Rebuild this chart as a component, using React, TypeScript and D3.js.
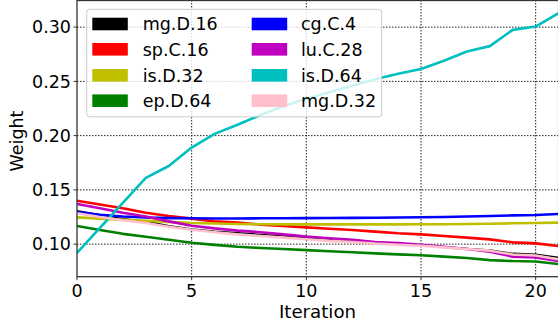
import React, { useEffect, useRef } from 'react';
import * as d3 from 'd3';

const iterations = d3.range(0, 22);

const seriesNames = ['mg.D.16', 'sp.C.16', 'is.D.32', 'ep.D.64', 'cg.C.4', 'lu.C.28', 'is.D.64', 'mg.D.32'];
const seriesColors = ['#000000', '#ff0000', '#bfbf00', '#008000', '#0000ff', '#bf00bf', '#00bfbf', '#ffc0cb'];

const mgD16 = [0.1308, 0.127, 0.1235, 0.121, 0.117, 0.114, 0.112, 0.1105, 0.109, 0.1075, 0.106, 0.1045, 0.103, 0.1015, 0.1005, 0.099, 0.0975, 0.096, 0.0945, 0.0915, 0.0906, 0.0878];
const spC16 = [0.140, 0.1365, 0.133, 0.129, 0.126, 0.1235, 0.121, 0.1198, 0.118, 0.1168, 0.1155, 0.1142, 0.113, 0.1115, 0.110, 0.109, 0.1075, 0.106, 0.1044, 0.1016, 0.1007, 0.0982];
const isD32 = [0.1247, 0.1235, 0.1225, 0.1215, 0.1205, 0.1195, 0.119, 0.1185, 0.1183, 0.1182, 0.1182, 0.1182, 0.1182, 0.1182, 0.1182, 0.1183, 0.1184, 0.1186, 0.1188, 0.1192, 0.1195, 0.1198];
const epD64 = [0.1167, 0.113, 0.1095, 0.1068, 0.104, 0.1013, 0.0993, 0.0976, 0.0965, 0.0955, 0.0945, 0.0935, 0.0925, 0.0915, 0.0906, 0.0897, 0.0885, 0.0872, 0.0853, 0.0844, 0.084, 0.0816];
const cgC4 = [0.1296, 0.127, 0.1255, 0.1245, 0.124, 0.1238, 0.1237, 0.1237, 0.1238, 0.1239, 0.124, 0.1241, 0.1242, 0.1243, 0.1245, 0.1248, 0.125, 0.1255, 0.126, 0.1265, 0.1268, 0.1278];
const luC28 = [0.137, 0.133, 0.129, 0.1255, 0.121, 0.117, 0.1145, 0.1125, 0.111, 0.109, 0.107, 0.1055, 0.104, 0.102, 0.101, 0.0995, 0.0975, 0.0955, 0.093, 0.0885, 0.0878, 0.0844];
const isD64 = [0.092, 0.115, 0.138, 0.161, 0.172, 0.189, 0.2016, 0.210, 0.219, 0.227, 0.234, 0.240, 0.246, 0.252, 0.257, 0.2615, 0.269, 0.2775, 0.2825, 0.2975, 0.3005, 0.313];
const mgD32 = [0.1285, 0.125, 0.122, 0.1195, 0.116, 0.1133, 0.111, 0.109, 0.1075, 0.106, 0.1045, 0.103, 0.102, 0.1005, 0.0995, 0.0985, 0.097, 0.0955, 0.094, 0.0905, 0.0895, 0.086];

const seriesValues = [mgD16, spC16, isD32, epD64, cgC4, luC28, isD64, mgD32];

const xTicks = [0, 5, 10, 15, 20];
const yTicks = [0.10, 0.15, 0.20, 0.25, 0.30];

const W = 558;
const H = 325;
const FONT = 'DejaVu Sans, sans-serif';

const App = () => {
    const ref = useRef(null);

    useEffect(() => {
        const root = d3.select(ref.current);
        root.selectAll('*').remove();

        const left = 77, right = 558.6, top = 0, bottom = 276.7;
        const x = d3.scaleLinear().domain([0, 21]).range([left, right]);
        const y = d3.scaleLinear().domain([0.07, 0.325]).range([bottom, top]);

        const svg = root.append('svg')
            .attr('width', W)
            .attr('height', H)
            .style('position', 'absolute')
            .style('left', '0px')
            .style('top', '0px')
            .style('background', '#fff');

        svg.append('defs').append('clipPath').attr('id', 'plotclip')
            .append('rect')
            .attr('x', left).attr('y', top)
            .attr('width', right - left).attr('height', bottom - top);

        // grid
        const grid = svg.append('g');
        xTicks.filter(t => t > 0).forEach(t => {
            grid.append('line')
                .attr('x1', x(t)).attr('x2', x(t))
                .attr('y1', top).attr('y2', bottom)
                .attr('stroke', '#222').attr('stroke-width', 1)
                .attr('stroke-dasharray', '1.5,1.5');
        });
        yTicks.forEach(t => {
            grid.append('line')
                .attr('x1', left).attr('x2', right)
                .attr('y1', y(t)).attr('y2', y(t))
                .attr('stroke', '#222').attr('stroke-width', 1)
                .attr('stroke-dasharray', '1.5,1.5');
        });

        // lines
        const line = d3.line<number>()
            .x((d, i) => x(iterations[i]))
            .y(d => y(d));

        const lines = svg.append('g').attr('clip-path', 'url(#plotclip)');
        seriesValues.forEach((vals, k) => {
            lines.append('path')
                .attr('d', line(vals))
                .attr('fill', 'none')
                .attr('stroke', seriesColors[k])
                .attr('stroke-width', k === 0 ? 1.5 : 2.6)
                .attr('stroke-linejoin', 'round');
        });

        // spines
        svg.append('rect')
            .attr('x', left).attr('y', top + 0.5)
            .attr('width', right - left).attr('height', bottom - top - 0.5)
            .attr('fill', 'none')
            .attr('stroke', '#333').attr('stroke-width', 1.3);

        // y axis ticks + labels
        yTicks.forEach(t => {
            svg.append('line')
                .attr('x1', left - 3.5).attr('x2', left)
                .attr('y1', y(t)).attr('y2', y(t))
                .attr('stroke', '#333').attr('stroke-width', 1);
            svg.append('text')
                .attr('x', left - 6).attr('y', y(t))
                .attr('dy', '0.36em')
                .attr('text-anchor', 'end')
                .attr('font-family', FONT).attr('font-size', 17.5)
                .attr('fill', '#000')
                .text(t.toFixed(2));
        });

        // x axis ticks + labels
        xTicks.forEach(t => {
            svg.append('line')
                .attr('x1', x(t)).attr('x2', x(t))
                .attr('y1', bottom).attr('y2', bottom + 3.5)
                .attr('stroke', '#333').attr('stroke-width', 1);
            svg.append('text')
                .attr('x', x(t)).attr('y', 296.7)
                .attr('text-anchor', 'middle')
                .attr('font-family', FONT).attr('font-size', 17.5)
                .attr('fill', '#000')
                .text(String(t));
        });

        svg.append('text')
            .attr('x', 317.5).attr('y', 318.3)
            .attr('text-anchor', 'middle')
            .attr('font-family', FONT).attr('font-size', 18.2)
            .text('Iteration');

        svg.append('text')
            .attr('transform', 'translate(23,141) rotate(-90)')
            .attr('text-anchor', 'middle')
            .attr('font-family', FONT).attr('font-size', 17.5)
            .text('Weight');

        // legend
        const lg = svg.append('g');
        lg.append('rect')
            .attr('x', 86.7).attr('y', 9.3)
            .attr('width', 295).attr('height', 107.5)
            .attr('rx', 3)
            .attr('fill', '#fff').attr('fill-opacity', 0.8)
            .attr('stroke', '#ccc').attr('stroke-width', 1);

        const rowY = [24, 49.3, 75.3, 100.7];
        const colX = [92.3, 251.7];
        const textX = [142.7, 301];
        seriesNames.forEach((name, k) => {
            const c = Math.floor(k / 4);
            const r = k % 4;
            lg.append('rect')
                .attr('x', colX[c]).attr('y', rowY[r] - 6.3)
                .attr('width', 35.5).attr('height', 12.6)
                .attr('fill', seriesColors[k]);
            lg.append('text')
                .attr('x', textX[c]).attr('y', rowY[r])
                .attr('dy', '0.36em')
                .attr('font-family', FONT).attr('font-size', 17.5)
                .attr('fill', '#000')
                .text(name);
        });
    }, []);

    return <div ref={ref}></div>;
};

export default App;
